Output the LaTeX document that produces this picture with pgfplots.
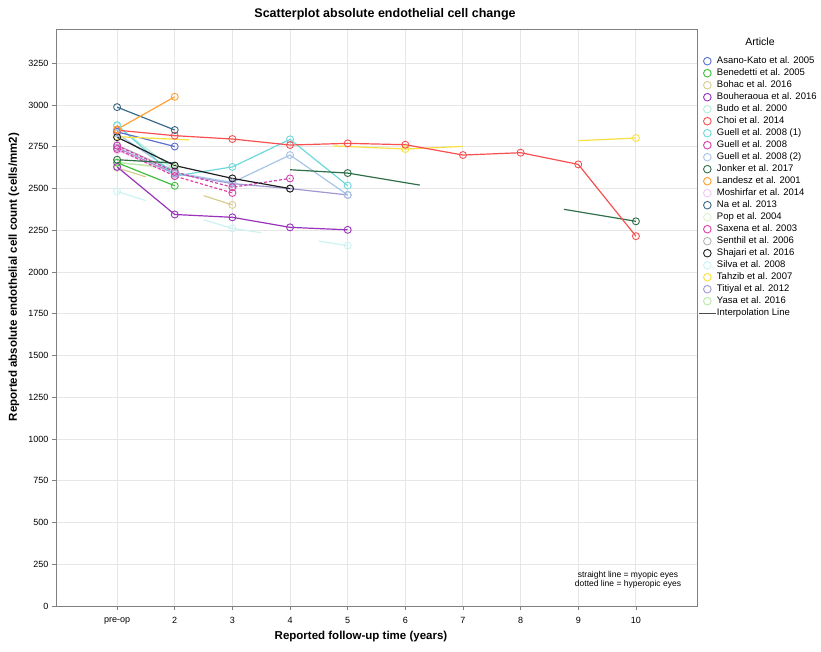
\documentclass[border=0pt]{standalone}
\usepackage{pgfplots}
\pgfplotsset{compat=1.18}
\usepackage{fontspec}
\setmainfont{Liberation Sans}
\definecolor{cAsano}{HTML}{5A6FCF}
\definecolor{cBened}{HTML}{3FBF3F}
\definecolor{cBohac}{HTML}{D8CC90}
\definecolor{cBouh}{HTML}{9933BB}
\definecolor{cBudo}{HTML}{B4ECDC}
\definecolor{cChoi}{HTML}{F85050}
\definecolor{cGuellA}{HTML}{6ED8DA}
\definecolor{cGuell}{HTML}{D040B0}
\definecolor{cGuellB}{HTML}{A8C4E8}
\definecolor{cJonker}{HTML}{2E6E48}
\definecolor{cLandesz}{HTML}{FFA030}
\definecolor{cMosh}{HTML}{F0C8F0}
\definecolor{cNa}{HTML}{3A6A88}
\definecolor{cPop}{HTML}{E0F0D0}
\definecolor{cSaxena}{HTML}{E040A8}
\definecolor{cSenthil}{HTML}{B4B4B4}
\definecolor{cShajari}{HTML}{202020}
\definecolor{cSilva}{HTML}{CCF2F2}
\definecolor{cTahzib}{HTML}{F8E040}
\definecolor{cTitiyal}{HTML}{A098D0}
\definecolor{cYasa}{HTML}{B8E8A8}
\definecolor{gridc}{HTML}{E6E6E6}
\definecolor{framec}{HTML}{808080}
\begin{document}
\begin{tikzpicture}[x=1pt,y=1pt]
\useasboundingbox (0,0) rectangle (821,651);
\begin{axis}[
  at={(56pt,45pt)}, anchor=south west,
  width=641pt, height=576pt, scale only axis,
  xmin=-0.06, xmax=11.06, ymin=0, ymax=3450,
  xtick={1,2,3,4,5,6,7,8,9,10},
  xticklabels={pre-op,2,3,4,5,6,7,8,9,10},
  ytick={0,250,500,750,1000,1250,1500,1750,2000,2250,2500,2750,3000,3250},
  yticklabel style={/pgf/number format/.cd,fixed,1000 sep={}},
  xticklabel style={yshift=-4pt},
  /pgf/number format/assume math mode=true,
  ticklabel style={font=\fontsize{9}{10}\selectfont},
  tick align=outside, tick pos=left,
  major tick length=4pt,
  every tick/.style={framec, line width=0.8pt},
  axis line style={framec, line width=1pt},
  grid=major, major grid style={gridc, line width=1pt},
  clip=true,
  every axis plot/.append style={line width=1.2pt, mark size=3.5pt, mark options={line width=0.9pt, solid}},
  legend style={at={(1,1)}, anchor=north west, xshift=1pt, yshift=-26pt,
    draw=none, fill=none, inner sep=0pt, row sep=2pt,
    font=\fontsize{9.5}{10}\selectfont,
    nodes={inner sep=0.5pt, text height=7pt, text depth=2pt, anchor=west}},
  legend cell align=left,
]
% ---- legend images ----
\addlegendimage{only marks, mark=o, mark size=3.8pt, cAsano}\addlegendentry{Asano-Kato et al. 2005}
\addlegendimage{only marks, mark=o, mark size=3.8pt, cBened}\addlegendentry{Benedetti et al. 2005}
\addlegendimage{only marks, mark=o, mark size=3.8pt, cBohac}\addlegendentry{Bohac et al. 2016}
\addlegendimage{only marks, mark=o, mark size=3.8pt, cBouh}\addlegendentry{Bouheraoua et al. 2016}
\addlegendimage{only marks, mark=o, mark size=3.8pt, cBudo}\addlegendentry{Budo et al. 2000}
\addlegendimage{only marks, mark=o, mark size=3.8pt, cChoi}\addlegendentry{Choi et al. 2014}
\addlegendimage{only marks, mark=o, mark size=3.8pt, cGuellA}\addlegendentry{Guell et al. 2008 (1)}
\addlegendimage{only marks, mark=o, mark size=3.8pt, cGuell}\addlegendentry{Guell et al. 2008}
\addlegendimage{only marks, mark=o, mark size=3.8pt, cGuellB}\addlegendentry{Guell et al. 2008 (2)}
\addlegendimage{only marks, mark=o, mark size=3.8pt, cJonker}\addlegendentry{Jonker et al. 2017}
\addlegendimage{only marks, mark=o, mark size=3.8pt, cLandesz}\addlegendentry{Landesz et al. 2001}
\addlegendimage{only marks, mark=o, mark size=3.8pt, cMosh}\addlegendentry{Moshirfar et al. 2014}
\addlegendimage{only marks, mark=o, mark size=3.8pt, cNa}\addlegendentry{Na et al. 2013}
\addlegendimage{only marks, mark=o, mark size=3.8pt, cPop}\addlegendentry{Pop et al. 2004}
\addlegendimage{only marks, mark=o, mark size=3.8pt, cSaxena}\addlegendentry{Saxena et al. 2003}
\addlegendimage{only marks, mark=o, mark size=3.8pt, cSenthil}\addlegendentry{Senthil et al. 2006}
\addlegendimage{only marks, mark=o, mark size=3.8pt, cShajari}\addlegendentry{Shajari et al. 2016}
\addlegendimage{only marks, mark=o, mark size=3.8pt, cSilva}\addlegendentry{Silva et al. 2008}
\addlegendimage{only marks, mark=o, mark size=3.8pt, cTahzib}\addlegendentry{Tahzib et al. 2007}
\addlegendimage{only marks, mark=o, mark size=3.8pt, cTitiyal}\addlegendentry{Titiyal et al. 2012}
\addlegendimage{only marks, mark=o, mark size=3.8pt, cYasa}\addlegendentry{Yasa et al. 2016}
\addlegendimage{line legend, cShajari!80!white, line width=1.2pt}\addlegendentry{Interpolation Line}
% ---- data ----
\addplot[forget plot, cPop, mark=o] coordinates {(1,2660) (2,2612)};
\addplot[forget plot, cYasa, mark=o] coordinates {(1,2655) (2,2625)};
\addplot[forget plot, cMosh, mark=o] coordinates {(1,2730) (2,2585)};
\addplot[forget plot, cBudo, mark=o] coordinates {(1,2875) (2,2610)};
\addplot[forget plot, cSenthil, mark=o] coordinates {(1,2760) (2,2605)};
\addplot[forget plot, cSilva, unbounded coords=jump] coordinates {(1,2483) (1.5,2428) (nan,nan) (2.5,2313) (3,2262) (3.5,2236) (nan,nan) (4.5,2185) (5,2159)};
\addplot[forget plot, cSilva, only marks, mark=o] coordinates {(1,2483) (3,2262) (5,2159)};
\addplot[forget plot, cBohac, unbounded coords=jump] coordinates {(1,2625) (1.5,2570) (nan,nan) (2.5,2458) (3,2402)};
\addplot[forget plot, cBohac, only marks, mark=o] coordinates {(1,2625) (3,2402)};
\addplot[forget plot, cTitiyal, mark=o] coordinates {(1,2745) (2,2590) (3,2530) (4,2500) (5,2462)};
\addplot[forget plot, cGuellB, mark=o] coordinates {(1,2830) (2,2595) (3,2537) (4,2701) (5,2462)};
\addplot[forget plot, cGuellA, mark=o] coordinates {(1,2880) (2,2575) (3,2630) (4,2795) (5,2518)};
\addplot[forget plot, cBened, mark=o] coordinates {(1,2655) (2,2517)};
\addplot[forget plot, cBouh, mark=o] coordinates {(1,2630) (2,2345) (3,2328) (4,2268) (5,2253)};
\addplot[forget plot, cGuell, mark=o, dash pattern=on 3pt off 2pt] coordinates {(1,2757) (2,2600) (3,2508) (4,2561)};
\addplot[forget plot, cSaxena, mark=o, dash pattern=on 3pt off 2pt] coordinates {(1,2737) (2,2575) (3,2474)};
\addplot[forget plot, cAsano, mark=o] coordinates {(1,2840) (2,2752)};
\addplot[forget plot, cTahzib, unbounded coords=jump] coordinates {(1,2811) (2.25,2792) (nan,nan) (4.75,2756) (6,2737) (7,2753) (nan,nan) (9,2787) (10,2803)};
\addplot[forget plot, cTahzib, only marks, mark=o] coordinates {(1,2811) (6,2737) (10,2803)};
\addplot[forget plot, cJonker, unbounded coords=jump] coordinates {(1,2673) (2,2653) (nan,nan) (4,2613) (5,2593) (6.25,2521) (nan,nan) (8.75,2376) (10,2304)};
\addplot[forget plot, cJonker, only marks, mark=o] coordinates {(1,2673) (5,2593) (10,2304)};
\addplot[forget plot, cShajari, mark=o] coordinates {(1,2808) (2,2638) (3,2561) (4,2500)};
\addplot[forget plot, cChoi, mark=o] coordinates {(1,2850) (2,2817) (3,2797) (4,2761) (5,2771) (6,2763) (7,2701) (8,2715) (9,2645) (10,2215)};
\addplot[forget plot, cNa, mark=o] coordinates {(1,2988) (2,2851)};
\addplot[forget plot, cLandesz, mark=o] coordinates {(1,2855) (2,3050)};
\end{axis}
\node[font=\bfseries\fontsize{12.5}{14}\selectfont] at (385,637) {Scatterplot absolute endothelial cell change};
\node[font=\bfseries\fontsize{11.5}{13}\selectfont, rotate=90] at (14,374) {Reported absolute endothelial cell count (cells/mm2)};
\node[font=\bfseries\fontsize{11.5}{13}\selectfont] at (361,14) {Reported follow-up time (years)};
\node[font=\fontsize{10.5}{12}\selectfont] at (760,609) {Article};
\node[font=\fontsize{8.5}{10}\selectfont, align=center] at (628,71) {straight line = myopic eyes\\[-1pt]dotted line = hyperopic eyes};
\end{tikzpicture}
\end{document}
